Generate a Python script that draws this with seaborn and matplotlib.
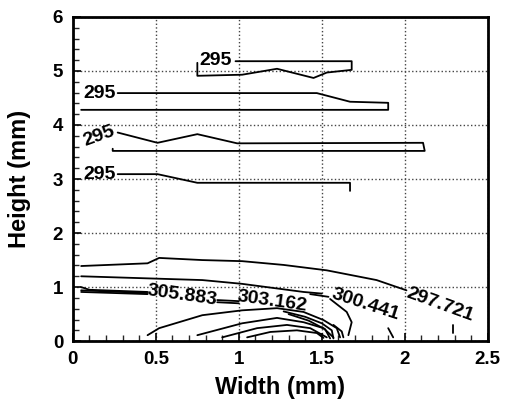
import numpy as np
import pandas as pd
import matplotlib
matplotlib.use("Agg")
import matplotlib.pyplot as plt
import matplotlib.ticker as mtick
import seaborn as sns

# contour traces (width mm, height mm)
c295_top_x = [0.98, 1.68, 1.68, 1.53, 1.45, 1.23, 1.02, 0.75, 0.75]
c295_top_y = [5.18, 5.18, 5.02, 4.97, 4.87, 5.04, 4.93, 4.91, 5.15]
c295_2_x = [0.27, 1.47, 1.67, 1.90, 1.90, 0.05]
c295_2_y = [4.59, 4.59, 4.43, 4.41, 4.28, 4.28]
c295_3_x = [0.27, 0.51, 0.75, 0.99, 2.11, 2.12, 0.24, 0.24]
c295_3_y = [3.86, 3.67, 3.83, 3.66, 3.67, 3.52, 3.52, 3.56]
c295_4_x = [0.27, 0.51, 0.75, 1.67, 1.67]
c295_4_y = [3.09, 3.09, 2.93, 2.93, 2.78]

c297_x = [0.05, 0.45, 0.52, 0.78, 1.02, 1.27, 1.53, 1.83, 2.01]
c297_y = [1.39, 1.44, 1.54, 1.50, 1.48, 1.41, 1.31, 1.13, 0.94]
c297_tail_x = [2.29, 2.29]
c297_tail_y = [0.30, 0.15]

c300_x = [0.05, 0.78, 1.02, 1.39, 1.50]
c300_y = [1.20, 1.13, 1.06, 0.91, 0.88]
c300_down_x = [1.55, 1.65, 1.68, 1.66]
c300_down_y = [0.78, 0.54, 0.35, 0.11]
c300_tick_x = [1.90, 1.93]
c300_tick_y = [0.24, 0.07]

c305a_x = [0.05, 0.10, 0.45]
c305a_y = [1.00, 0.95, 0.91]
c305b_x = [0.05, 0.45]
c305b_y = [0.94, 0.89]
c305c_x = [0.05, 0.45]
c305c_y = [0.91, 0.87]
mid1_x = [0.87, 1.00]
mid1_y = [0.76, 0.74]
mid2_x = [0.87, 1.00]
mid2_y = [0.72, 0.70]
mid3_x = [1.43, 1.54]
mid3_y = [0.87, 0.82]

dome1_x = [0.45, 0.52, 0.78, 1.02, 1.23, 1.39, 1.51, 1.59, 1.61]
dome1_y = [0.11, 0.24, 0.48, 0.57, 0.61, 0.54, 0.39, 0.24, 0.07]
dome2_x = [0.75, 1.02, 1.23, 1.39, 1.51, 1.57]
dome2_y = [0.11, 0.33, 0.43, 0.35, 0.24, 0.07]
dome3_x = [0.90, 1.11, 1.29, 1.43, 1.53]
dome3_y = [0.07, 0.24, 0.30, 0.24, 0.07]
dome4_x = [1.05, 1.19, 1.35, 1.47, 1.51]
dome4_y = [0.07, 0.17, 0.20, 0.15, 0.06]
fan1_x = [1.27, 1.40, 1.50, 1.56, 1.57]
fan1_y = [0.55, 0.45, 0.33, 0.20, 0.05]
fan2_x = [1.30, 1.42, 1.52, 1.55]
fan2_y = [0.50, 0.38, 0.22, 0.05]
fan3_x = [1.57, 1.62, 1.63]
fan3_y = [0.30, 0.18, 0.07]

traces = {
    "295_top": (c295_top_x, c295_top_y), "295_2": (c295_2_x, c295_2_y),
    "295_3": (c295_3_x, c295_3_y), "295_4": (c295_4_x, c295_4_y),
    "297": (c297_x, c297_y), "297_tail": (c297_tail_x, c297_tail_y),
    "300": (c300_x, c300_y), "300_down": (c300_down_x, c300_down_y),
    "300_tick": (c300_tick_x, c300_tick_y),
    "305a": (c305a_x, c305a_y), "305b": (c305b_x, c305b_y), "305c": (c305c_x, c305c_y),
    "mid1": (mid1_x, mid1_y), "mid2": (mid2_x, mid2_y), "mid3": (mid3_x, mid3_y),
    "dome1": (dome1_x, dome1_y), "dome2": (dome2_x, dome2_y),
    "dome3": (dome3_x, dome3_y), "dome4": (dome4_x, dome4_y),
    "fan1": (fan1_x, fan1_y), "fan2": (fan2_x, fan2_y), "fan3": (fan3_x, fan3_y),
}

# contour labels: text, x, y, rotation
labels = [("295", 0.86, 5.19, 0), ("295", 0.16, 4.59, 0), ("295", 0.16, 3.80, 20),
          ("295", 0.16, 3.09, 0), ("305.883", 0.66, 0.84, -8), ("303.162", 1.20, 0.73, -8),
          ("300.441", 1.76, 0.67, -18), ("297.721", 2.21, 0.68, -20)]

rows = []
for name, (xs, ys) in traces.items():
    for i, (x, y) in enumerate(zip(xs, ys)):
        rows.append({"trace": name, "order": i, "x": x, "y": y})
df = pd.DataFrame(rows)

sns.set_theme(style="white")
plt.rcParams["font.family"] = ["Liberation Sans", "DejaVu Sans"]
plt.rcParams["font.weight"] = "bold"

fig, ax = plt.subplots(figsize=(5.06, 4.12), dpi=100)
fig.subplots_adjust(left=0.144, right=0.964, top=0.959, bottom=0.172)

sns.lineplot(data=df, x="x", y="y", units="trace", estimator=None, sort=False,
             color="black", lw=1.3, ax=ax, legend=False)

for txt, x, y, rot in labels:
    ax.text(x, y, txt, ha="center", va="center", rotation=rot, fontsize=14,
            fontweight="bold", color="black")

ax.set_xlim(0, 2.5)
ax.set_ylim(0, 6)
ax.xaxis.set_major_locator(mtick.MultipleLocator(0.5))
ax.xaxis.set_minor_locator(mtick.MultipleLocator(0.1))
ax.yaxis.set_major_locator(mtick.MultipleLocator(1))
ax.yaxis.set_minor_locator(mtick.MultipleLocator(0.2))
ax.xaxis.set_major_formatter(mtick.FuncFormatter(lambda v, _: f"{v:g}"))
ax.tick_params(axis="both", which="major", direction="in", length=6, width=1.2,
               labelsize=13.5, colors="black", bottom=True, left=True, pad=7)
ax.tick_params(axis="both", which="minor", direction="in", length=4, width=1,
               bottom=True, left=True)
ax.grid(True, which="major", ls=":", lw=1.0, color="#444444")
for s in ax.spines.values():
    s.set_color("black")
    s.set_linewidth(2)

ax.set_xlabel("Width (mm)", fontsize=17, fontweight="bold", labelpad=6, color="black")
ax.set_ylabel("Height (mm)", fontsize=17, fontweight="bold", labelpad=16, color="black")

fig.savefig("out.png", dpi=100)
